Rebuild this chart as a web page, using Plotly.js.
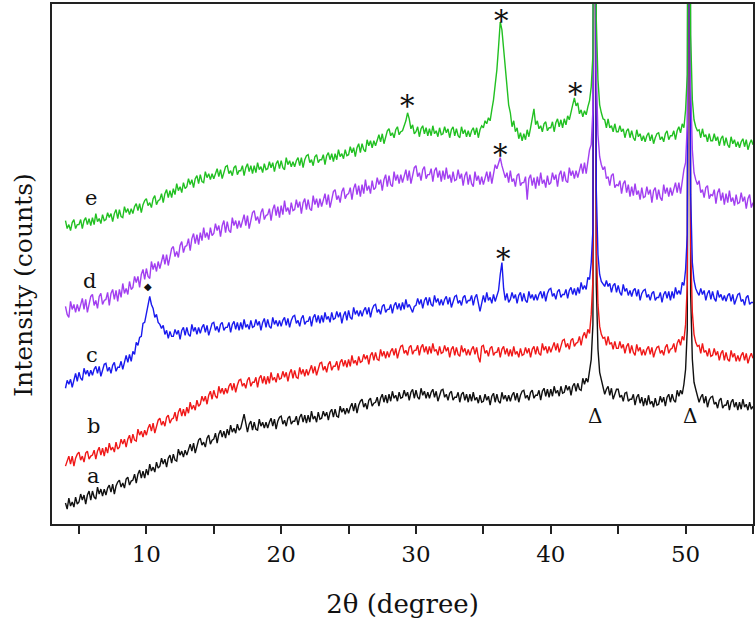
<!DOCTYPE html>
<html>
<head>
<meta charset="utf-8">
<script src="https://cdn.plot.ly/plotly-3.0.1.min.js"></script>
<style>html,body{margin:0;padding:0;background:#fff;}#chart{width:756px;height:619px;}</style>
</head>
<body>
<div id="chart"></div>
<script>
// 2θ grid: 4.000 to 55.000 in 0.125° steps (x0/dx handed to Plotly), one row per degree
const thetaStart = 4;
const thetaStep = 0.125;

// Offset intensities (arbitrary units)
const sampleA = [
21,15,26,18,22,17,27,20,
22,30,24,29,20,29,33,24,
33,27,25,37,30,35,28,35,
29,36,39,32,40,30,38,42,
44,37,41,36,45,47,39,43,
44,50,41,50,54,46,53,46,
55,49,60,53,57,52,62,56,
58,66,60,65,57,66,69,61,
70,64,63,75,69,73,67,74,
69,76,80,73,81,71,79,84,
86,79,82,77,86,89,80,84,
85,91,81,90,94,87,93,86,
95,89,99,92,96,91,100,94,
96,103,110,101,92,100,103,94,
102,95,94,105,98,102,96,102,
96,102,106,98,105,95,103,107,
108,100,104,98,106,108,100,103,
103,108,99,107,110,102,109,101,
109,102,113,105,108,102,112,105,
106,113,108,112,104,112,115,107,
115,108,107,118,112,116,110,116,
111,117,121,113,121,111,119,123,
125,117,121,115,124,126,118,121,
122,127,118,126,130,122,129,121,
130,123,133,126,129,123,132,126,
127,134,128,132,124,132,135,126,
134,127,125,136,129,133,126,132,
126,132,135,127,133,123,130,134,
135,127,130,124,131,133,124,127,
127,132,122,130,132,124,130,122,
130,123,132,124,127,121,129,122,
123,130,124,128,119,128,131,122,
130,123,121,132,125,129,123,129,
123,129,132,124,131,122,129,133,
134,126,129,124,132,134,126,129,
129,134,124,133,136,128,135,127,
135,128,138,131,134,128,138,131,
132,139,134,138,129,138,141,133,
141,135,134,146,140,146,142,152,
165,200,1000,240,175,152,145,138,
130,135,138,129,136,125,131,135,
135,127,129,123,131,132,123,125,
125,130,119,127,130,121,127,118,
126,119,129,120,123,117,126,119,
120,128,122,127,118,127,130,122,
130,124,122,134,128,134,130,140,
155,195,1000,230,165,142,135,128,
122,127,130,121,128,117,124,127,
128,120,122,116,124,126,116,119,
119,124,114,122,125,117,122,114,
122,115,125,117,120,114,122,115,
118];

const sampleB = [
58,64,68,60,68,58,66,70,
72,64,68,62,71,73,65,68,
69,74,65,73,77,69,76,68,
77,71,81,74,77,72,82,75,
77,85,80,85,77,85,89,81,
90,84,83,95,89,93,87,94,
89,96,100,93,101,91,99,104,
106,99,103,98,107,109,101,105,
106,112,103,112,116,108,115,108,
117,111,122,115,119,114,124,118,
120,128,123,128,120,129,133,125,
134,128,126,138,131,136,130,136,
131,138,141,134,141,132,139,144,
145,138,141,136,144,147,138,142,
142,147,137,146,149,141,148,140,
148,141,152,144,147,142,151,145,
146,153,147,152,143,151,155,146,
154,147,146,157,150,155,148,155,
149,155,159,151,158,149,156,161,
162,154,158,152,160,163,154,158,
158,163,154,162,165,158,164,157,
165,158,169,161,164,159,168,162,
163,170,165,169,160,169,172,164,
172,165,164,175,168,173,166,173,
167,173,176,169,176,166,173,178,
179,171,174,169,177,179,170,174,
174,179,169,177,180,172,178,170,
178,171,181,173,175,169,178,171,
172,179,173,177,167,175,178,169,
177,170,168,179,172,176,169,175,
169,175,178,170,177,167,162,178,
179,171,174,168,176,178,169,172,
172,177,167,175,178,170,176,168,
175,168,178,170,173,167,176,169,
170,177,171,176,167,175,178,170,
178,171,169,181,174,178,171,178,
172,178,182,174,181,172,179,184,
185,177,181,175,184,186,178,181,
182,188,179,188,192,186,195,191,
210,245,1000,285,220,198,190,186,
187,179,188,180,182,175,183,176,
176,183,176,180,171,178,181,171,
179,172,169,180,173,177,169,175,
169,175,178,170,177,167,173,177,
178,171,174,169,177,180,171,175,
176,181,172,181,185,179,188,184,
200,240,1000,280,212,190,182,178,
179,171,181,172,174,168,176,168,
169,176,169,173,164,171,174,164,
172,165,163,174,167,171,163,169,
163,169,172,164,171,161,167,171,
166];

const sampleC = [
136,144,140,145,137,146,151,143,
152,146,144,156,150,154,148,154,
149,155,158,151,158,148,155,160,
161,153,157,151,159,162,153,157,
157,163,155,164,169,162,170,163,
173,170,182,179,187,188,201,202,
212,222,228,220,216,207,210,202,
200,196,199,190,194,186,193,188,
188,195,190,194,185,194,197,189,
197,190,188,200,193,197,190,197,
191,197,200,192,199,189,196,201,
202,194,198,192,200,202,194,197,
197,202,192,200,203,195,202,194,
202,195,205,197,200,195,204,197,
198,205,199,203,194,202,206,197,
205,198,196,207,200,204,198,204,
198,204,207,199,206,197,204,208,
209,201,204,198,206,209,200,203,
203,208,198,207,210,202,209,201,
209,202,212,205,208,202,212,205,
206,213,207,212,201,209,213,204,
214,207,205,217,210,214,208,214,
208,214,217,210,217,207,215,219,
220,212,215,210,218,220,212,215,
215,220,211,219,222,215,221,214,
222,215,225,217,220,215,212,218,
219,226,220,225,216,224,227,219,
227,220,218,229,222,226,219,225,
219,225,228,220,227,217,224,228,
229,221,224,219,227,229,221,224,
224,229,219,227,230,222,213,221,
229,222,232,224,227,221,230,223,
228,234,250,262,236,224,231,222,
225,232,226,230,221,229,232,223,
231,224,222,233,226,230,224,230,
224,230,233,226,233,223,231,235,
236,228,231,225,233,235,227,230,
230,235,226,234,237,230,236,229,
237,231,242,235,239,235,247,245,
262,295,1000,335,270,250,243,240,
238,244,238,241,232,239,241,232,
239,232,229,240,233,236,229,234,
228,234,236,228,235,224,231,234,
235,227,230,224,231,233,224,227,
227,232,222,230,233,226,233,224,
233,226,237,230,234,230,242,239,
255,290,1000,330,262,244,236,232,
229,236,230,234,224,231,234,225,
233,226,223,234,227,230,224,229,
223,229,231,223,230,220,226,230,
231,223,225,219,227,229,220,222,
222];

const sampleD = [
218,210,207,223,215,220,212,220,
213,221,226,215,225,212,222,228,
230,219,224,216,228,231,220,224,
225,232,219,231,235,225,234,223,
235,227,241,231,236,230,243,235,
237,248,242,248,237,250,255,245,
256,248,246,263,255,261,253,263,
256,265,270,260,270,259,269,276,
278,268,273,267,279,283,272,278,
279,286,274,286,291,281,290,280,
292,284,297,287,292,285,297,289,
291,301,294,299,288,299,304,292,
303,294,292,307,299,304,296,304,
297,305,310,299,309,296,306,312,
314,304,308,301,312,316,305,309,
310,316,304,315,320,309,318,307,
319,310,324,313,317,310,322,314,
315,325,317,323,311,322,326,315,
325,316,314,329,320,326,317,326,
318,326,331,320,330,317,327,333,
335,325,329,322,333,337,326,330,
331,337,325,336,341,330,339,328,
340,331,345,334,339,331,344,335,
337,347,340,345,334,345,350,338,
349,340,338,353,344,350,341,350,
342,350,355,344,354,341,351,357,
359,348,352,344,355,358,346,350,
350,356,343,354,357,347,354,343,
354,345,357,346,350,342,353,344,
345,355,346,351,339,349,353,340,
350,341,338,353,344,349,340,348,
340,348,353,343,353,341,352,360,
356,363,367,359,354,347,352,342,
354,343,346,338,349,351,339,342,
342,348,325,346,350,339,347,336,
348,339,352,341,345,337,349,340,
342,352,345,350,338,350,354,343,
353,344,342,357,349,354,346,354,
347,356,361,351,362,351,364,375,
380,415,1000,455,390,368,360,355,
358,346,348,339,349,351,337,340,
339,344,331,341,344,332,340,328,
338,329,341,330,334,325,337,327,
328,338,330,335,322,334,337,325,
335,327,324,340,331,337,328,337,
329,337,342,332,342,331,344,355,
362,400,1000,440,375,352,345,340,
344,332,335,327,337,339,326,330,
329,335,321,332,336,324,332,320,
331,322,334,323,327,319,330,321,
322,332,323,328,316,326,330,317,
322];

const sampleE = [
304,296,300,294,302,305,296,300,
300,305,296,304,307,300,306,299,
307,300,311,303,306,301,310,304,
305,312,307,311,303,311,315,306,
315,308,307,318,312,316,310,316,
311,318,321,314,321,312,320,324,
326,319,322,317,326,329,320,324,
325,331,322,331,335,327,334,327,
336,330,341,334,338,332,342,336,
338,346,340,345,337,346,349,341,
350,343,342,353,347,351,345,351,
346,352,356,348,355,346,353,358,
359,351,354,349,357,359,350,354,
354,359,349,357,361,353,359,351,
359,352,362,355,358,352,361,355,
356,363,357,362,353,361,364,356,
364,357,355,367,360,364,358,363,
358,364,367,359,367,357,365,369,
370,362,365,359,368,370,362,365,
365,370,360,369,372,365,371,363,
371,365,375,368,371,366,375,369,
370,378,372,377,368,377,381,372,
381,375,373,385,379,384,377,384,
379,386,390,383,391,381,389,394,
396,389,392,387,395,398,390,393,
394,399,404,412,406,396,400,391,
393,398,388,396,399,391,397,389,
396,389,399,391,394,388,397,390,
391,398,392,396,387,395,398,389,
396,389,387,398,391,395,388,394,
388,394,397,390,397,387,395,399,
397,404,401,407,404,415,425,440,
455,478,503,495,475,455,438,420,
412,398,404,393,397,386,392,384,
391,385,395,388,397,405,416,400,
404,396,399,393,401,403,394,397,
397,403,393,402,406,398,405,397,
406,400,409,405,414,420,427,419,
422,411,415,408,414,410,418,424,
438,470,1000,505,445,420,412,406,
405,397,406,397,399,393,401,393,
393,399,393,396,387,394,396,387,
394,387,384,395,388,391,384,389,
383,389,392,384,390,381,387,391,
392,385,388,383,391,394,385,389,
389,394,385,394,398,392,401,397,
415,450,1000,490,425,405,398,394,
395,387,396,388,390,383,391,384,
384,391,384,388,379,386,389,379,
387,380,377,388,381,385,378,383,
377,383,386,378,385,375,381,385,
380];

const sampleNames = ['a', 'b', 'c', 'd', 'e'];
const sampleSeries = [sampleA, sampleB, sampleC, sampleD, sampleE];
const sampleColors = ['#111111', '#f01818', '#1a1aee', '#a23ff0', '#22c022'];

// label positions (x in degrees, y in intensity units)
const labelX = [6.1, 6.1, 6.0, 5.8, 5.9];
const labelY = [48, 98, 169, 243, 327];

// phase markers
const starX = [29.4, 36.35, 41.85, 36.3, 36.5];
const starY = [425, 510, 437, 376, 272];
const diamondX = [10.1];
const diamondY = [238];
const deltaX = [43.3, 50.3];
const deltaY = [108, 108];

const serif = 'DejaVu Serif';

const traces = sampleSeries.map((ys, i) => ({
  type: 'scatter', mode: 'lines',
  x0: thetaStart, dx: thetaStep, y: ys,
  name: sampleNames[i],
  line: {color: sampleColors[i], width: 1.4},
  hoverinfo: 'skip'
}));

const annotations = [];
sampleNames.forEach((n, i) => annotations.push({
  x: labelX[i], y: labelY[i], xref: 'x', yref: 'y', text: n, showarrow: false,
  font: {family: serif, size: 21, color: '#111'}
}));
starX.forEach((x, i) => annotations.push({
  x: x, y: starY[i], xref: 'x', yref: 'y', text: '*', showarrow: false,
  yshift: -6, font: {family: serif, size: 29, color: '#111'}
}));
diamondX.forEach((x, i) => annotations.push({
  x: x, y: diamondY[i], xref: 'x', yref: 'y', text: '◆', showarrow: false,
  font: {family: 'DejaVu Sans', size: 10, color: '#111'}
}));
deltaX.forEach((x, i) => annotations.push({
  x: x, y: deltaY[i], xref: 'x', yref: 'y', text: 'Δ', showarrow: false,
  font: {family: serif, size: 20, color: '#111'}
}));
// y-axis title placed as a rotated label left of the frame
annotations.push({
  x: -0.04, y: 0.46, xref: 'paper', yref: 'paper', text: 'Intensity (counts)',
  textangle: -90, showarrow: false, xanchor: 'center', yanchor: 'middle',
  font: {family: serif, size: 25, color: '#111'}
});

const layout = {
  width: 756, height: 619,
  margin: {l: 52, r: 3, t: 4, b: 95},
  paper_bgcolor: '#fff', plot_bgcolor: '#fff',
  showlegend: false,
  font: {family: serif},
  xaxis: {
    range: [3, 55], showgrid: false, zeroline: false,
    showline: true, mirror: true, linecolor: '#222', linewidth: 2,
    ticks: 'outside', ticklen: 8, tickwidth: 2, tickcolor: '#222',
    tick0: 0, dtick: 10,
    minor: {dtick: 5, ticks: 'outside', ticklen: 8, tickwidth: 2, tickcolor: '#222'},
    tickfont: {family: serif, size: 23, color: '#111'},
    title: {text: '2θ (degree)', font: {family: serif, size: 26, color: '#111'}, standoff: 30}
  },
  yaxis: {
    range: [0, 521], showgrid: false, zeroline: false,
    showline: true, mirror: true, linecolor: '#222', linewidth: 2,
    ticks: '', showticklabels: false
  },
  annotations: annotations
};

Plotly.newPlot('chart', traces, layout, {displayModeBar: false, staticPlot: true});
</script>
</body>
</html>
